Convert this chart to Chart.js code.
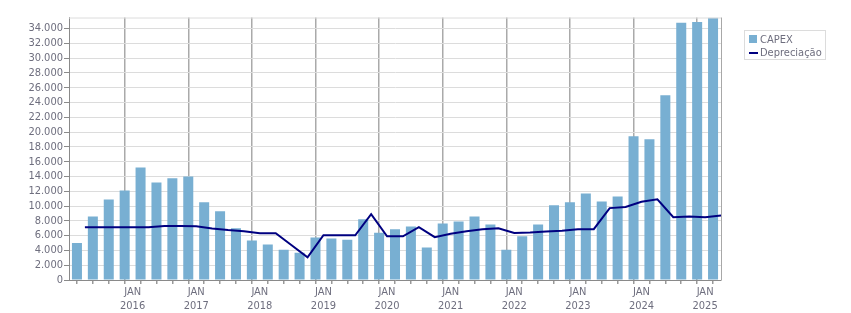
<!DOCTYPE html>
<html>
<head>
<meta charset="utf-8">
<script src="https://cdn.jsdelivr.net/npm/chart.js@4.4.1/dist/chart.umd.min.js"></script>
<style>
  html, body { margin: 0; padding: 0; background: #fff; }
  #wrap { position: relative; width: 851px; height: 313px; }
  #legend {
    position: absolute; left: 744px; top: 30px; height: 28px; padding-right: 3px;
    border: 1px solid #dcdcdc; font: 11px 'DejaVu Sans Condensed', 'DejaVu Sans', sans-serif;
    color: #6e6e7e;
  }
  #legend .row { position: relative; height: 13px; padding-left: 15px; line-height: 13px; white-space: nowrap; }
  #legend span { position: absolute; }
</style>
</head>
<body>
<div id="wrap">
  <canvas id="chart" width="851" height="313"></canvas>
  <div id="legend">
    <div class="row" style="margin-top:2px"><span style="left:4px;top:2px;width:8px;height:8px;background:#78afd2"></span>CAPEX</div>
    <div class="row"><span style="left:4px;top:6px;width:9px;height:2px;background:#000080"></span>Depreciação</div>
  </div>
</div>
<script>
// trimestres (T = trimestre)
const quarters = [
  '1T15','2T15','3T15','4T15','1T16','2T16','3T16','4T16','1T17','2T17','3T17','4T17',
  '1T18','2T18','3T18','4T18','1T19','2T19','3T19','4T19','1T20','2T20','3T20','4T20',
  '1T21','2T21','3T21','4T21','1T22','2T22','3T22','4T22','1T23','2T23','3T23','4T23',
  '1T24','2T24','3T24','4T24','1T25'
];

const capex = [
  5000, 8600, 10900, 12100, 15200, 13200, 13750, 14000, 10500, 9300, 7000, 5350,
  4800, 4100, 3700, 5750, 5600, 5450, 8200, 6400, 6850, 7250, 4400, 7650,
  7900, 8600, 7500, 4100, 5900, 7500, 10100, 10500, 11700, 10600, 11300, 19450,
  19050, 25000, 34800, 34900, 35450
];

const depreciacao = [
  7150, 7150, 7150, 7150, 7150, 7300, 7300, 7280, 6980, 6750, 6600, 6330,
  6330, 4700, 3070, 6050, 6050, 6050, 8900, 5900, 5900, 7150, 5800, 6250,
  6600, 6850, 7000, 6350, 6420, 6550, 6650, 6870, 6870, 9720, 9880, 10580,
  10920, 8500, 8600, 8480, 8730
];

const yTicks = [0, 2000, 4000, 6000, 8000, 10000, 12000, 14000, 16000, 18000,
  20000, 22000, 24000, 26000, 28000, 30000, 32000, 34000];

const FONT = "'DejaVu Sans Condensed', 'DejaVu Sans', sans-serif";
const TEXT = '#6e6e7e';

// ano decimal: barras no meio do trimestre, linha no fim do trimestre
function qYear(label) {
  const q = parseInt(label.charAt(0), 10);
  const y = 2000 + parseInt(label.slice(2), 10);
  return { start: y + (q - 1) * 0.25, end: y + q * 0.25 };
}

const barPts = quarters.map((q, i) => ({ x: qYear(q).start + 0.125, y: capex[i] }));
const linePts = quarters.map((q, i) => ({ x: qYear(q).end, y: depreciacao[i] }));

function fmt(v) {
  return String(v).replace(/\B(?=(\d{3})+(?!\d))/g, '.');
}

const frame = {
  id: 'frame',
  afterDatasetsDraw(chart) {
    const a = chart.chartArea, c = chart.ctx;
    c.save();
    c.lineWidth = 1;
    c.strokeStyle = '#dcdcdc';
    c.beginPath(); c.moveTo(a.left, a.top + 0.5); c.lineTo(a.right, a.top + 0.5); c.stroke();
    c.strokeStyle = '#a8a8a8';
    c.beginPath(); c.moveTo(a.right + 0.5, a.top); c.lineTo(a.right + 0.5, a.bottom); c.stroke();
    c.restore();
  }
};

new Chart(document.getElementById('chart'), {
  data: {
    datasets: [
      {
        type: 'line',
        label: 'Depreciação',
        data: linePts,
        borderColor: '#000080',
        borderWidth: 2,
        pointRadius: 0,
        tension: 0,
        order: 0
      },
      {
        type: 'bar',
        label: 'CAPEX',
        data: barPts,
        backgroundColor: '#78afd2',
        barPercentage: 0.63,
        categoryPercentage: 1,
        order: 1
      }
    ]
  },
  options: {
    responsive: false,
    animation: false,
    layout: { padding: { top: 17.5, right: 130, left: 0, bottom: 0 } },
    plugins: { legend: { display: false }, tooltip: { enabled: false } },
    scales: {
      x: {
        type: 'linear',
        min: 2015,
        max: 2025.25,
        offset: false,
        afterBuildTicks(scale) {
          const t = [];
          for (let v = 2015.25; v <= 2025.25; v += 0.25) t.push({ value: v });
          scale.ticks = t;
        },
        afterFit(scale) { scale.height = 33; },
        ticks: {
          autoSkip: false,
          maxRotation: 0,
          padding: 2,
          color: TEXT,
          font: { family: FONT, size: 11 },
          callback: (v) => Number.isInteger(v) ? ['JAN', String(v)] : ''
        },
        grid: {
          color: (ctx) => ctx.tick && Number.isInteger(ctx.tick.value) ? '#aaaaaa' : 'rgba(0,0,0,0)',
          lineWidth: 1.5,
          tickColor: '#999',
          tickLength: 4
        },
        border: { color: '#8a8a8a', width: 1 }
      },
      y: {
        min: 0,
        max: 35500,
        afterBuildTicks(scale) { scale.ticks = yTicks.map(v => ({ value: v })); },
        afterFit(scale) { scale.width = 69; },
        ticks: {
          autoSkip: false,
          padding: 1,
          color: TEXT,
          font: { family: FONT, size: 11 },
          callback: (v) => fmt(v)
        },
        grid: { color: '#dcdcdc', tickColor: '#8a8a8a', tickLength: 5 },
        border: { color: '#8a8a8a', width: 1 }
      }
    }
  },
  plugins: [frame]
});
</script>
</body>
</html>
